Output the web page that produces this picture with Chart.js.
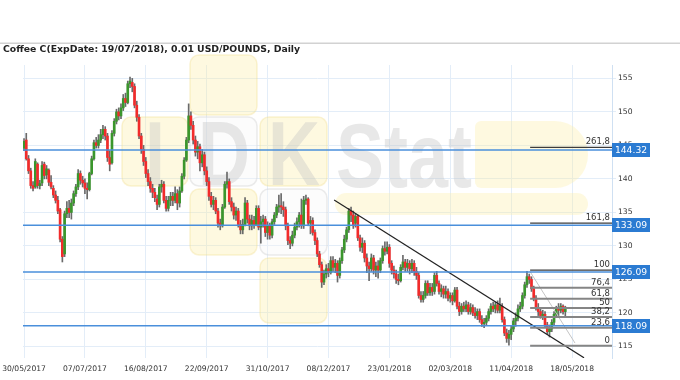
<!DOCTYPE html>
<html>
<head>
<meta charset="utf-8">
<script src="https://cdn.jsdelivr.net/npm/chart.js@4.4.1/dist/chart.umd.min.js"></script>
<style>
html, body { margin: 0; padding: 0; background: #fff; }
#wrap { width: 680px; height: 380px; }
</style>
</head>
<body>
<div id="wrap"><canvas id="chart" width="680" height="380"></canvas></div>
<script>
// daily candles (index 0 = 30/05/2017)
const opens = [
    144.6,145.8,143.0,141.2,139.0,138.8,142.2,139.0,139.4,142.2,
    140.6,141.3,139.5,138.6,137.6,136.8,135.4,131.0,128.8,134.8,
    135.6,135.0,136.4,137.8,138.8,140.8,139.8,139.4,138.6,138.4,
    140.8,143.0,145.4,145.0,145.8,146.6,147.4,146.4,143.2,142.4,
    146.8,148.6,150.0,149.4,150.6,152.0,151.4,154.2,154.4,153.8,
    151.0,149.2,146.4,144.4,142.6,140.8,139.6,138.6,138.0,137.0,
    136.2,138.8,139.2,136.8,135.6,136.8,137.4,136.8,137.8,136.4,
    138.2,140.4,142.8,145.8,149.4,148.0,145.8,144.0,144.8,142.4,
    143.6,141.2,139.6,137.4,136.2,136.8,135.2,133.4,133.0,135.8,
    139.2,139.6,136.6,135.8,134.6,135.2,133.2,132.4,133.2,136.4,
    134.0,133.0,133.8,133.2,135.6,132.8,133.6,134.0,132.0,133.0,
    131.6,133.6,134.6,135.8,136.0,135.8,135.4,133.0,130.8,130.4,
    131.6,132.8,133.6,134.6,133.0,136.8,137.0,133.4,133.8,132.0,
    130.8,128.8,127.2,124.6,125.8,126.6,126.0,127.8,126.8,127.4,
    125.6,127.8,129.4,131.0,132.4,135.2,134.6,133.4,134.4,131.2,
    129.8,130.4,128.2,127.0,126.6,128.2,126.4,127.0,126.4,127.8,
    129.6,129.2,129.8,127.4,126.4,125.8,125.0,124.8,126.8,127.6,
    126.8,127.4,126.6,127.4,126.2,125.6,122.6,122.0,122.6,124.4,
    123.0,123.8,123.2,125.6,124.4,123.2,123.6,122.8,123.2,122.2,
    122.6,121.8,123.4,121.0,120.2,121.0,120.6,121.2,120.2,120.8,
    120.0,119.6,120.2,119.0,118.4,118.6,119.2,120.2,121.0,120.6,
    121.2,120.4,121.0,119.0,117.0,116.2,116.8,117.6,118.8,119.2,
    120.6,121.0,122.6,124.2,125.4,125.0,123.6,122.2,120.8,120.2,
    119.6,119.8,118.2,117.2,117.6,118.6,119.8,120.6,120.4,121.0,120.2
];
const closes = [
    145.6,143.0,141.2,139.0,138.6,142.6,139.0,139.3,142.0,140.5,
    141.5,139.5,138.8,137.6,136.8,135.2,131.0,128.4,134.8,135.6,
    135.0,136.4,137.8,138.8,140.8,139.8,139.4,138.6,138.4,140.8,
    143.0,145.4,145.0,145.8,146.6,147.4,146.4,143.2,142.2,146.8,
    148.6,150.0,149.4,150.6,152.0,151.4,154.2,154.6,153.8,151.0,
    149.2,146.4,144.4,142.6,140.8,139.6,138.6,138.0,137.2,136.2,
    138.8,139.2,136.8,135.6,136.8,137.4,136.8,137.8,136.4,138.2,
    140.4,142.8,145.8,149.4,148.0,145.8,144.0,144.8,142.4,143.6,
    141.2,139.6,137.4,136.2,136.8,135.2,133.4,133.0,135.8,139.2,
    139.6,136.6,135.8,134.6,135.2,133.2,132.4,133.2,136.4,134.0,
    133.0,133.8,133.2,135.6,132.8,133.6,134.0,132.0,133.0,131.6,
    133.6,134.6,135.8,136.0,135.8,135.4,133.0,130.8,130.4,131.6,
    132.8,133.6,134.6,133.0,136.8,137.0,133.4,133.8,132.0,130.8,
    128.8,127.2,124.6,125.8,126.6,126.0,127.8,126.8,127.4,125.6,
    127.8,129.4,131.0,132.4,135.2,134.6,133.0,134.4,131.2,129.8,
    130.4,128.2,127.0,126.6,128.2,126.4,127.0,126.4,127.8,129.6,
    129.2,129.8,127.4,126.4,125.8,125.0,124.8,126.8,127.6,126.8,
    127.4,126.6,127.4,126.2,125.6,122.6,122.0,122.6,124.4,123.0,
    123.8,123.2,125.6,124.4,123.2,123.6,122.8,123.2,122.2,122.6,
    121.8,123.4,121.0,120.2,121.0,120.6,121.2,120.2,120.8,120.0,
    119.6,120.2,119.0,118.4,118.6,119.2,120.2,121.0,120.6,121.2,
    120.4,121.0,119.0,117.0,116.2,116.8,117.6,118.8,119.2,120.6,
    121.0,122.6,124.2,125.4,125.0,123.6,122.2,120.8,120.2,119.6,
    119.8,118.2,117.2,117.6,118.6,119.8,120.6,120.4,121.0,120.2,120.6
];
const highs = [
    146.0,146.8,143.5,141.6,139.6,143.0,142.4,139.8,142.6,142.5,
    142.0,141.5,140.5,139.0,138.2,137.4,135.6,131.4,135.2,136.6,
    136.8,137.0,138.2,139.2,141.4,141.2,140.4,140.0,139.4,141.0,
    143.4,145.8,146.2,146.6,147.4,148.0,147.8,146.8,144.2,147.2,
    149.0,150.4,150.6,151.2,152.6,152.8,154.6,155.2,155.0,154.2,
    151.6,149.6,146.8,145.0,143.2,141.4,140.2,139.2,138.6,137.6,
    139.2,139.8,139.6,137.4,137.4,138.0,138.0,138.8,138.4,138.8,
    140.8,143.2,146.2,151.2,150.0,148.6,146.4,145.6,145.2,144.4,
    144.0,141.8,140.2,138.0,137.4,137.2,135.6,134.0,136.2,139.6,
    141.0,140.0,137.2,136.4,135.8,135.6,133.8,134.0,137.2,136.8,
    134.6,134.6,134.4,136.0,136.0,134.4,134.6,134.4,133.6,133.4,
    134.0,135.0,136.2,137.6,137.8,136.6,135.8,133.4,131.4,132.2,
    133.4,134.2,135.0,137.0,137.4,137.6,137.2,134.4,134.2,132.4,
    131.2,129.2,127.6,126.4,127.2,127.4,128.4,128.4,128.0,127.8,
    128.2,129.8,131.6,132.8,135.6,135.8,135.2,134.8,134.6,131.6,
    131.2,130.8,128.8,127.6,128.8,128.6,127.6,127.8,128.2,130.0,
    130.6,130.6,130.2,127.8,127.0,126.4,125.8,127.2,128.6,128.0,
    128.0,127.8,128.0,127.8,126.8,126.0,123.2,123.2,124.8,124.8,
    124.4,124.4,126.0,126.2,124.8,124.2,124.0,124.0,123.6,123.0,
    123.0,123.8,123.8,121.6,121.4,121.6,121.8,121.6,121.4,121.2,
    120.8,120.6,120.6,119.6,119.2,119.6,120.6,121.4,121.6,121.6,
    121.8,122.2,121.4,119.4,117.6,117.4,118.0,119.2,120.0,121.2,
    121.6,123.0,124.6,126.2,125.8,125.4,124.0,122.6,121.4,120.8,
    120.4,120.2,118.6,118.2,119.0,120.2,121.0,121.4,121.4,121.2,121.0
];
const lows = [
    144.2,142.8,140.8,138.6,138.2,138.6,138.6,138.5,139.0,140.0,
    140.0,139.0,138.5,137.2,136.4,134.8,130.6,127.6,128.4,134.2,
    134.2,134.0,136.0,137.4,138.4,139.2,138.8,137.8,137.0,138.2,
    140.6,142.8,144.6,144.6,145.4,146.0,145.8,142.6,141.2,142.2,
    146.4,148.2,148.8,149.0,150.2,150.8,151.2,153.6,153.0,150.6,
    148.6,146.0,143.8,142.0,140.2,139.0,138.0,137.2,136.6,135.4,
    135.8,138.0,136.4,135.2,135.2,136.0,136.0,136.4,135.4,135.8,
    138.0,140.0,142.6,145.4,147.4,145.2,143.4,143.0,141.2,141.8,
    140.6,139.0,136.8,135.8,135.4,134.8,132.8,132.4,132.8,135.6,
    138.6,136.2,135.2,134.0,133.8,132.8,131.8,131.8,133.0,133.4,
    132.4,132.4,132.6,133.0,132.4,130.4,132.8,131.4,131.0,131.0,
    131.2,133.2,134.2,135.0,134.8,134.4,132.4,130.2,129.6,130.0,
    131.2,132.4,132.8,132.6,132.6,136.2,133.0,131.8,131.6,130.2,
    128.4,126.8,123.8,124.2,125.2,125.4,125.8,126.2,126.0,124.6,
    125.2,127.4,129.0,130.6,132.0,133.6,132.6,132.8,130.8,129.2,
    129.0,127.6,126.0,124.8,126.2,125.8,125.4,125.2,126.0,127.4,
    128.6,128.8,126.8,125.8,125.2,124.4,124.2,124.6,126.4,126.2,
    126.2,125.8,126.0,125.6,125.0,122.2,121.6,121.6,122.2,122.6,
    122.6,122.6,122.8,124.0,122.8,122.4,122.2,122.2,121.8,121.6,
    121.2,121.6,120.6,119.6,119.8,120.2,120.2,119.8,119.8,119.6,
    119.2,119.0,118.6,118.0,117.8,118.2,118.8,119.8,120.2,120.0,
    120.0,120.0,118.6,116.6,115.6,115.2,116.0,117.2,118.0,118.8,
    120.2,120.6,122.2,123.8,124.4,123.2,121.8,120.4,119.6,119.2,
    119.0,117.8,116.8,116.4,117.2,118.2,119.4,119.6,120.0,119.8,119.4
];

const dateLabels = ['30/05/2017', '07/07/2017', '16/08/2017', '22/09/2017', '31/10/2017',
    '08/12/2017', '23/01/2018', '02/03/2018', '11/04/2018', '18/05/2018'];
const dateIdx = [0, 27, 54, 81, 108, 135, 162, 189, 216, 243];
const priceTicks = [115, 120, 125, 130, 135, 140, 145, 150, 155];

const levels = [144.32, 133.09, 126.09, 118.09];
const fibValues = [115.1, 117.8, 119.4, 120.75, 122.1, 123.75, 126.4, 133.4, 144.7];
const fibLabels = ['0', '23,6', '38,2', '50', '61,8', '76,4', '100', '161,8', '261,8'];
const fibStart = 224.4;
const trendX = [137.5, 248.3];
const trendY = [136.85, 113.3];
const fibDiagX = [224.4, 244.3];
const fibDiagY = [126.15, 115.5];

const X_MIN = -0.45, X_MAX = 260.7, Y_MIN = 113.27, Y_MAX = 157.0;
const UP = '#3a962c', DOWN = '#f22b2b', WICK = '#6a6a6a', LEVEL = '#4a8fdb';

Chart.defaults.font.family = 'DejaVu Sans';

const wickData = closes.map((c, i) => ({ x: i, y: [lows[i], highs[i]] }));
const bodyData = closes.map((c, i) => ({ x: i, y: [opens[i], c] }));

const datasets = [];
levels.forEach(v => datasets.push({
    type: 'line', data: [{ x: X_MIN, y: v }, { x: X_MAX, y: v }],
    borderColor: LEVEL, borderWidth: 1.5, pointRadius: 0, order: 0
}));
fibValues.forEach((v, k) => {
    const major = fibLabels[k] === '100' || fibLabels[k] === '161,8' || fibLabels[k] === '261,8';
    datasets.push({
        type: 'line', data: [{ x: fibStart, y: v }, { x: X_MAX, y: v }],
        borderColor: major ? '#3c3c3c' : '#858585', borderWidth: major ? 1.2 : 2,
        pointRadius: 0, order: 0
    });
});
datasets.push({
    type: 'line', data: [{ x: trendX[0], y: trendY[0] }, { x: trendX[1], y: trendY[1] }],
    borderColor: '#222', borderWidth: 1.2, pointRadius: 0, order: 0
});
datasets.push({
    type: 'line', data: [{ x: fibDiagX[0], y: fibDiagY[0] }, { x: fibDiagX[1], y: fibDiagY[1] }],
    borderColor: '#c4c4c4', borderWidth: 1, pointRadius: 0, order: 0
});
datasets.push({
    type: 'bar', data: wickData, backgroundColor: WICK,
    barThickness: 1, grouped: false, order: 2
});
datasets.push({
    type: 'bar', data: bodyData, grouped: false, order: 1,
    barThickness: 2, minBarLength: 1,
    backgroundColor: c => closes[c.dataIndex] >= opens[c.dataIndex] ? UP : DOWN
});

// pale logo behind the candles
const watermark = {
    id: 'watermark',
    beforeDatasetsDraw(chart) {
        const c = chart.ctx;
        c.save();
        const squares = [
            [190, 55, 67, 60, 1], [122, 117, 66, 69, 1], [190, 117, 67, 69, 0],
            [260, 117, 67, 69, 1], [190, 189, 67, 66, 1], [260, 189, 67, 66, 0],
            [260, 258, 67, 65, 1]
        ];
        squares.forEach(s => {
            c.beginPath();
            c.roundRect(s[0], s[1], s[2], s[3], 9);
            c.fillStyle = s[4] ? 'rgba(252,236,160,0.32)' : 'rgba(245,245,245,0.35)';
            c.fill();
            c.strokeStyle = s[4] ? 'rgba(240,222,140,0.35)' : 'rgba(215,215,215,0.5)';
            c.lineWidth = 1.5;
            c.stroke();
        });
        c.beginPath();
        c.roundRect(335, 193, 253, 22, 11);
        c.fillStyle = 'rgba(252,236,160,0.32)';
        c.fill();
        c.beginPath();
        c.roundRect(475, 121, 113, 67, [6, 33, 33, 6]);
        c.fill();

        c.fillStyle = 'rgba(195,195,195,0.38)';
        c.textBaseline = 'alphabetic';
        c.textAlign = 'center';
        c.save();
        c.scale(0.8, 1);
        c.font = 'bold 90px "Liberation Sans"';
        c.fillText('I', 155 / 0.8, 185);
        c.fillText('D', 224 / 0.8, 185);
        c.fillText('K', 294 / 0.8, 185);
        c.textAlign = 'left';
        c.fillText('Stat', 336 / 0.8, 187);
        c.restore();
        c.restore();
    }
};

const overlay = {
    id: 'overlay',
    afterDraw(chart) {
        const c = chart.ctx;
        const y = chart.scales.y;
        const area = chart.chartArea;
        c.save();
        // top rule and title
        c.fillStyle = '#d2d2d2';
        c.fillRect(0, 42.5, 680, 1.5);
        c.fillStyle = '#222';
        c.font = 'bold 9.3px "DejaVu Sans"';
        c.textAlign = 'left';
        c.textBaseline = 'middle';
        c.fillText('Coffee C(ExpDate: 19/07/2018), 0.01 USD/POUNDS, Daily', 3, 50);

        // fibonacci labels
        c.font = '8.5px "DejaVu Sans"';
        c.fillStyle = '#333';
        c.textAlign = 'right';
        c.textBaseline = 'bottom';
        fibValues.forEach((v, k) => {
            c.fillText(fibLabels[k], area.right - 2, y.getPixelForValue(v) - 1);
        });

        // price boxes on the axis
        c.font = '9.2px "DejaVu Sans"';
        c.textAlign = 'center';
        c.textBaseline = 'middle';
        levels.forEach(v => {
            const py = y.getPixelForValue(v);
            c.fillStyle = '#2b7bd2';
            c.fillRect(area.right, Math.round(py) - 7, 38, 14);
            c.fillStyle = '#fff';
            c.fillText(v.toFixed(2), area.right + 19, py + 0.5);
        });
        c.restore();
    }
};

new Chart(document.getElementById('chart').getContext('2d'), {
    type: 'bar',
    data: { datasets: datasets },
    options: {
        responsive: false,
        animation: false,
        layout: { padding: { left: 23, top: 65, right: 0, bottom: 0 } },
        plugins: { legend: { display: false }, tooltip: { enabled: false } },
        scales: {
            x: {
                type: 'linear', min: X_MIN, max: X_MAX, offset: false,
                afterBuildTicks: s => { s.ticks = dateIdx.map(v => ({ value: v })); },
                afterFit: s => { s.height = 22; s.paddingLeft = 0; s.paddingRight = 0; },
                ticks: {
                    autoSkip: false, maxRotation: 0, padding: 6,
                    color: '#333', font: { size: 7.6 },
                    callback: v => dateLabels[dateIdx.indexOf(v)] || ''
                },
                grid: { color: '#e3edf8', drawTicks: false, offset: false },
                border: { display: false }
            },
            y: {
                position: 'right', min: Y_MIN, max: Y_MAX,
                afterBuildTicks: s => { s.ticks = priceTicks.map(v => ({ value: v })); },
                afterFit: s => { s.width = 68; },
                ticks: { padding: 2, color: '#333', font: { size: 7.6 }, callback: v => String(v) },
                grid: { color: '#e3edf8', tickLength: 4 },
                border: { color: '#cfe0f2' }
            }
        }
    },
    plugins: [watermark, overlay]
});
</script>
</body>
</html>
